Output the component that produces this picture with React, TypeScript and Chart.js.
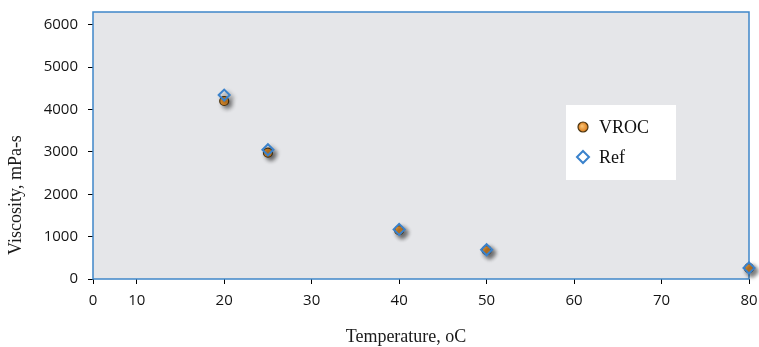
import React, { useEffect, useRef } from "react";
import { Chart, registerables } from "chart.js";

Chart.register(...registerables);

// ---- data ----
const temperatures = [20, 25, 40, 50, 80];
const vrocViscosity = [4200, 2980, 1150, 680, 255];
const refViscosity = [4340, 3050, 1170, 690, 260];
const seriesLabels = ["VROC", "Ref"];
const xTickLabels = [0, 10, 20, 30, 40, 50, 60, 70, 80];
const yTickValues = [0, 1000, 2000, 3000, 4000, 5000, 6000];
const xMin = 5;
const xMax = 80;
const yMin = 0;
const yMax = 6300;
const xTitle = "Temperature, oC";
const yTitle = "Viscosity, mPa-s";

const PLOT_BG = "#e5e6e9";
const PLOT_BORDER = "#3f87c9";
const TICK_FONT = { family: "'Open Sans'", size: 15 };
const SERIF = "'Liberation Serif', 'DejaVu Serif', serif";

const plotPlugin = {
  id: "plotDecor",
  beforeDraw(chart: any) {
    const { ctx, chartArea: a } = chart;
    ctx.save();
    ctx.fillStyle = PLOT_BG;
    ctx.fillRect(a.left, a.top, a.right - a.left, a.bottom - a.top);
    ctx.restore();
  },
  beforeDatasetsDraw(chart: any) {
    const { ctx, chartArea: a } = chart;
    ctx.save();
    ctx.strokeStyle = PLOT_BORDER;
    ctx.lineWidth = 1.5;
    ctx.strokeRect(a.left, a.top, a.right - a.left, a.bottom - a.top);
    ctx.restore();
    ctx.save();
    ctx.shadowColor = "rgba(0,0,0,0.45)";
    ctx.shadowBlur = 4;
    ctx.shadowOffsetX = 3;
    ctx.shadowOffsetY = 3;
  },
  afterDatasetsDraw(chart: any) {
    const { ctx } = chart;
    ctx.restore();
    // axis titles
    ctx.save();
    ctx.fillStyle = "#1a1a1a";
    ctx.font = `18px ${SERIF}`;
    ctx.textAlign = "center";
    ctx.textBaseline = "middle";
    ctx.fillText(xTitle, 406, 337);
    ctx.translate(16, 195);
    ctx.rotate(-Math.PI / 2);
    ctx.fillText(yTitle, 0, 0);
    ctx.restore();
    // legend
    ctx.save();
    ctx.fillStyle = "#ffffff";
    ctx.fillRect(566, 105, 110, 75);
    const items = chart.data.datasets;
    const ys = [127, 157];
    items.forEach((ds: any, i: number) => {
      const cx = 583;
      const cy = ys[i];
      if (i === 0) {
        const g = ctx.createRadialGradient(cx - 1, cy - 1, 0.5, cx, cy, 5);
        g.addColorStop(0, "#f8c070");
        g.addColorStop(1, "#d97a1a");
        ctx.fillStyle = g;
        ctx.strokeStyle = "#4a3410";
        ctx.lineWidth = 1.2;
        ctx.beginPath();
        ctx.arc(cx, cy, 5, 0, Math.PI * 2);
        ctx.fill();
        ctx.stroke();
      } else {
        ctx.strokeStyle = ds.borderColor;
        ctx.lineWidth = 2;
        ctx.beginPath();
        ctx.moveTo(cx, cy - 6);
        ctx.lineTo(cx + 6, cy);
        ctx.lineTo(cx, cy + 6);
        ctx.lineTo(cx - 6, cy);
        ctx.closePath();
        ctx.stroke();
      }
      ctx.fillStyle = "#111";
      ctx.font = `18px ${SERIF}`;
      ctx.textAlign = "left";
      ctx.textBaseline = "middle";
      ctx.fillText(ds.label, 599, cy + 1);
    });
    ctx.restore();
  },
};

export default function App() {
  const ref = useRef<HTMLCanvasElement>(null);
  useEffect(() => {
    if (!ref.current) return;
    const chart = new Chart(ref.current, {
      type: "scatter",
      data: {
        datasets: [
          {
            label: seriesLabels[0],
            data: temperatures.map((t, i) => ({ x: t, y: vrocViscosity[i] })),
            pointStyle: "circle",
            pointRadius: 4.5,
            backgroundColor: "#e8932e",
            borderColor: "#4a3410",
            borderWidth: 1.2,
            order: 2,
          },
          {
            label: seriesLabels[1],
            data: temperatures.map((t, i) => ({ x: t, y: refViscosity[i] })),
            pointStyle: "rectRot",
            pointRadius: 5.5,
            backgroundColor: "rgba(0,0,0,0)",
            borderColor: "#3a82cc",
            borderWidth: 2,
            order: 1,
          },
        ],
      },
      options: {
        animation: false,
        responsive: false,
        clip: false as any,
        layout: { padding: { top: 12, right: 10, left: 0, bottom: 0 } },
        plugins: { legend: { display: false }, tooltip: { enabled: false } },
        scales: {
          x: {
            type: "linear",
            min: xMin,
            max: xMax,
            afterBuildTicks: (s: any) => {
              s.ticks = xTickLabels.map((v) => ({ value: Math.max(v, xMin) }));
            },
            afterFit: (s: any) => {
              s.height = 68;
              s.paddingLeft = 0;
              s.paddingRight = 0;
            },
            ticks: {
              autoSkip: false,
              maxRotation: 0,
              padding: 8,
              color: "#141414",
              font: TICK_FONT,
              callback: (_v: any, i: number) => String(xTickLabels[i]),
            },
            grid: {
              drawOnChartArea: false,
              drawTicks: true,
              tickLength: 5,
              color: "#000",
            },
            border: { display: false },
          },
          y: {
            type: "linear",
            min: yMin,
            max: yMax,
            afterBuildTicks: (s: any) => {
              s.ticks = yTickValues.map((v) => ({ value: v }));
            },
            afterFit: (s: any) => {
              s.width = 93;
              s.paddingTop = 0;
              s.paddingBottom = 0;
            },
            ticks: {
              padding: 10,
              color: "#141414",
              font: TICK_FONT,
              callback: (v: any) => String(v),
            },
            grid: {
              drawOnChartArea: false,
              drawTicks: true,
              tickLength: 5,
              color: "#000",
            },
            border: { display: false },
          },
        },
      },
      plugins: [plotPlugin],
    });
    return () => chart.destroy();
  }, []);
  return (
    <div style={{ position: "fixed", left: 0, top: 0, width: 759, height: 347, background: "#fff" }}>
      <canvas ref={ref} width={759} height={347} style={{ display: "block" }} />
    </div>
  );
}
